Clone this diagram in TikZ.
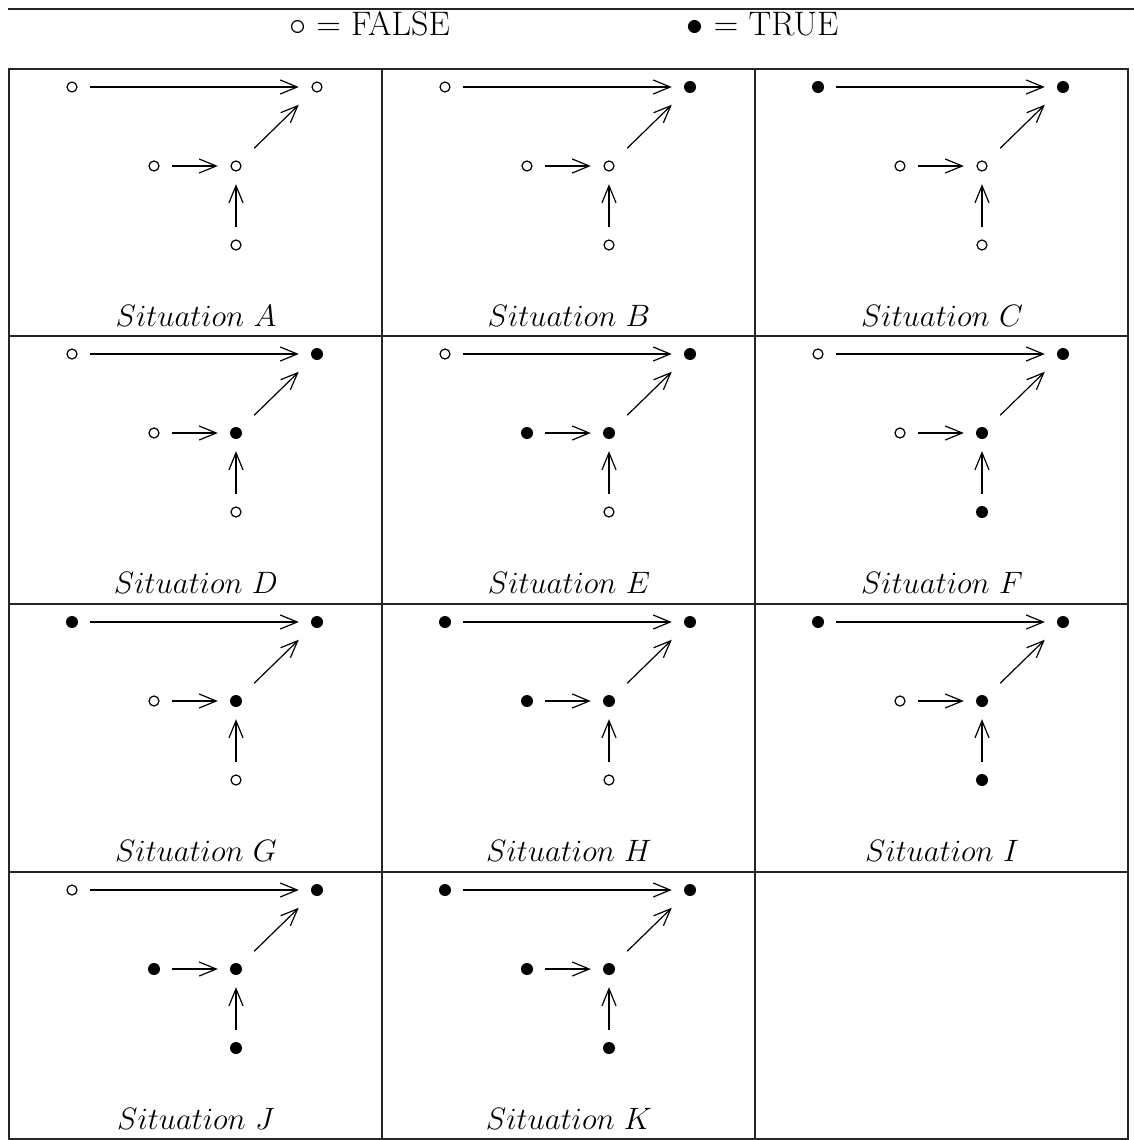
\documentclass[tikz,border=0pt]{standalone}
\usetikzlibrary{arrows.meta}
\newcommand\bigtxt[1]{\scalebox{1.3666}{\fontsize{24.88}{30}\selectfont #1}}
\newcommand\labtxt[1]{\scalebox{1.243}{\fontsize{24.88}{30}\selectfont #1}}
\tikzset{
  every picture/.style={x=1pt,y=-1pt},
  base/.style={rectangle, minimum size=36pt, inner sep=0pt},
  st0/.style={base, path picture={\draw[line width=1.2pt] (path picture bounding box.center) circle (5pt);}},
  st1/.style={base, path picture={\fill (path picture bounding box.center) circle (6pt);}},
  arr/.style={line width=1.2pt, -{Straight Barb[length=17pt,width=14pt,line width=1.2pt]}},
  frame/.style={line width=1.3pt, black!85},
  sitlabel/.style={inner sep=0pt},
  legend/.style={inner sep=0pt}
}
\newcommand\sitcell[9]{%
  \begin{scope}[shift={(#1,#2)}]
    \node[#4] (#3a) at (63,18) {};
    \node[#5] (#3b) at (308,18) {};
    \node[#6] (#3c) at (227,97) {};
    \node[#7] (#3d) at (145,97) {};
    \node[#8] (#3e) at (227,176) {};
    \draw[arr] (#3a) -- (#3b);
    \draw[arr] (#3d) -- (#3c);
    \draw[arr] (#3e) -- (#3c);
    \draw[arr] (#3c) -- (#3b);
    \node[sitlabel] (#3l) at (187,247) {\labtxt{$Situation~#9$}};
  \end{scope}}
\begin{document}
\begin{tikzpicture}
\useasboundingbox (0,0) rectangle (1134,1140);
% top rule
\coordinate (rl) at (8,9);
\coordinate (rr) at (1134,9);
\draw[frame] (rl) -- (rr);
% legend
\node[legend] (lf) at (369.5,24) {\bigtxt{$\circ$ = FALSE}};
\node[legend] (lt) at (762.5,24) {\bigtxt{$\bullet$ = TRUE}};
% table grid
\coordinate (t0) at (9,69);
\coordinate (t1) at (1128,1139);
\draw[frame] (t0) rectangle (t1);
\foreach \yy in {336,604,872}{\draw[frame] (9,\yy) -- (1128,\yy);}
\foreach \xx in {382,755}{\draw[frame] (\xx,69) -- (\xx,1139);}
% cells
\sitcell{9}{69}{A}{st0}{st0}{st0}{st0}{st0}{A}
\sitcell{382}{69}{B}{st0}{st1}{st0}{st0}{st0}{B}
\sitcell{755}{69}{C}{st1}{st1}{st0}{st0}{st0}{C}
\sitcell{9}{336}{D}{st0}{st1}{st1}{st0}{st0}{D}
\sitcell{382}{336}{E}{st0}{st1}{st1}{st1}{st0}{E}
\sitcell{755}{336}{F}{st0}{st1}{st1}{st0}{st1}{F}
\sitcell{9}{604}{G}{st1}{st1}{st1}{st0}{st0}{G}
\sitcell{382}{604}{H}{st1}{st1}{st1}{st1}{st0}{H}
\sitcell{755}{604}{I}{st1}{st1}{st1}{st0}{st1}{I}
\sitcell{9}{872}{J}{st0}{st1}{st1}{st1}{st1}{J}
\sitcell{382}{872}{K}{st1}{st1}{st1}{st1}{st1}{K}
\end{tikzpicture}
\end{document}
